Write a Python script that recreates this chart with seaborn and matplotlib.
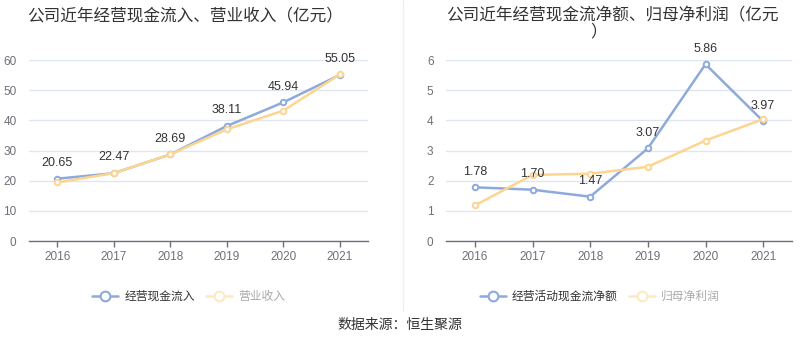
import pandas as pd
import matplotlib.pyplot as plt
import seaborn as sns
from matplotlib.lines import Line2D

sns.set_theme(style="white")
plt.rcParams['font.family'] = ['Liberation Sans', 'Noto Sans CJK SC', 'DejaVu Sans']

# data (亿元)
years = ['2016', '2017', '2018', '2019', '2020', '2021']
cash_inflow = [20.65, 22.47, 28.69, 38.11, 45.94, 55.05]
revenue = [19.4, 22.5, 28.7, 37.0, 43.2, 55.2]
net_cash_flow = [1.78, 1.70, 1.47, 3.07, 5.86, 3.97]
net_profit = [1.18, 2.19, 2.23, 2.46, 3.33, 4.04]

BLUE = '#8eaadb'
YELLOW = '#fdd591'
GRID = '#e0e6f1'
AXIS = '#6e7079'

left_df = pd.DataFrame({'year': years, '经营现金流入': cash_inflow, '营业收入': revenue})
right_df = pd.DataFrame({'year': years, '经营活动现金流净额': net_cash_flow, '归母净利润': net_profit})

fig = plt.figure(figsize=(8, 3.58), dpi=100)
ax1 = fig.add_axes([0.03625, 0.3268, 0.42375, 0.5056])
ax2 = fig.add_axes([0.5575, 0.3268, 0.4325, 0.5056])


def draw_panel(ax, df, main_col, second_col, ymax, label_vals):
    x = list(range(len(df)))
    sns.lineplot(x=x, y=df[second_col], ax=ax, color=YELLOW, linewidth=1.8,
                 marker='o', markersize=4, markerfacecolor='white',
                 markeredgecolor=YELLOW, markeredgewidth=1.4, zorder=3)
    sns.lineplot(x=x, y=df[main_col], ax=ax, color=BLUE, linewidth=1.8,
                 marker='o', markersize=4, markerfacecolor='white',
                 markeredgecolor=BLUE, markeredgewidth=1.4, zorder=2)
    for xi, v in zip(x, label_vals):
        ax.annotate(f'{v:.2f}', (xi, v), xytext=(0, 7), textcoords='offset points',
                    ha='center', va='bottom', fontsize=9, color='#333333', zorder=5)
    ax.set_xlim(-0.5, len(df) - 0.5)
    ax.set_ylim(0, ymax)
    ax.set_xticks(x)
    ax.set_xticklabels(df['year'])
    ax.set_xlabel('')
    ax.set_ylabel('')
    ax.yaxis.grid(True, color=GRID, linewidth=1)
    ax.set_axisbelow(True)
    for s in ['top', 'right', 'left']:
        ax.spines[s].set_visible(False)
    ax.spines['bottom'].set_color(AXIS)
    ax.spines['bottom'].set_linewidth(1)
    ax.tick_params(axis='x', colors=AXIS, labelsize=8.5, length=4, width=1, direction='out', bottom=True, pad=3)
    ax.tick_params(axis='y', colors=AXIS, labelsize=8.5, length=0, pad=9)
    ax.legend_ = None


draw_panel(ax1, left_df, '经营现金流入', '营业收入', 60, cash_inflow)
ax1.set_yticks(range(0, 61, 10))
draw_panel(ax2, right_df, '经营活动现金流净额', '归母净利润', 6, net_cash_flow)
ax2.set_yticks(range(0, 7))

# titles
fig.text(0.231, 0.958, '公司近年经营现金流入、营业收入（亿元）', ha='center', va='center',
         fontsize=12, color='#333333')
fig.text(0.765, 0.958, '公司近年经营现金流净额、归母净利润（亿元', ha='center', va='center',
         fontsize=12, color='#333333')
fig.text(0.748, 0.912, '）', ha='center', va='center', fontsize=12, color='#333333')


def legend_handles(main_name, second_name):
    h1 = Line2D([], [], color=BLUE, linewidth=1.8, marker='o', markersize=7,
                markerfacecolor='white', markeredgecolor=BLUE, markeredgewidth=1.5)
    h2 = Line2D([], [], color='#fde9c4', linewidth=1.8, marker='o', markersize=7,
                markerfacecolor='white', markeredgecolor='#fde9c4', markeredgewidth=1.5)
    return [h1, h2], [main_name, second_name]


h, l = legend_handles('经营现金流入', '营业收入')
leg1 = fig.legend(h, l, loc='center', bbox_to_anchor=(0.236, 0.17), ncol=2, frameon=False,
                  fontsize=8.5, handlelength=2.2, columnspacing=1.0, handletextpad=0.5)
leg1.get_texts()[1].set_color('#aaaaaa')
leg1.get_texts()[0].set_color('#333333')

h, l = legend_handles('经营活动现金流净额', '归母净利润')
leg2 = fig.legend(h, l, loc='center', bbox_to_anchor=(0.75, 0.17), ncol=2, frameon=False,
                  fontsize=8.5, handlelength=2.2, columnspacing=1.0, handletextpad=0.5)
leg2.get_texts()[1].set_color('#aaaaaa')
leg2.get_texts()[0].set_color('#333333')

# divider and source
fig.add_artist(Line2D([0.504, 0.504], [0.13, 1.0], color='#eeeeee', linewidth=1))
fig.text(0.5, 0.092, '数据来源：恒生聚源', ha='center', va='center', fontsize=10, color='#333333')

fig.savefig('out.png', dpi=100, facecolor='white')
